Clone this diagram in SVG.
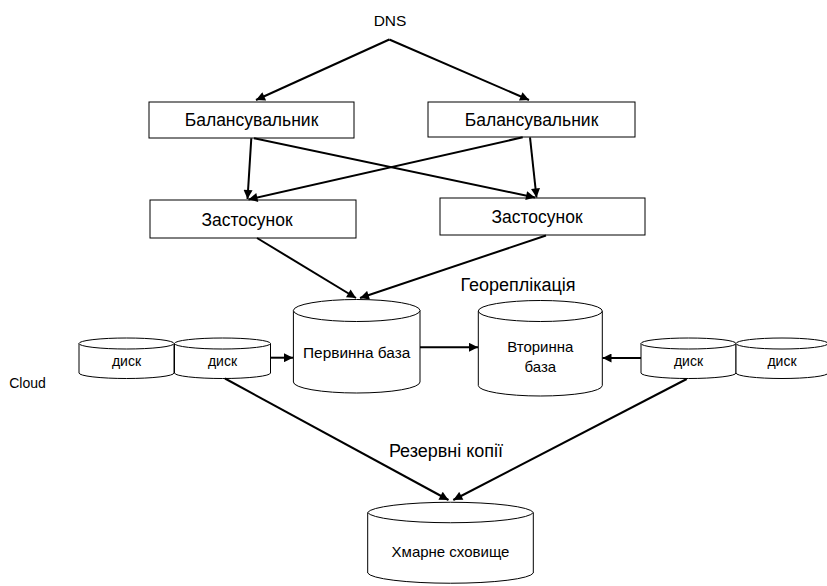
<svg xmlns="http://www.w3.org/2000/svg" width="827" height="586" viewBox="0 0 827 586">
<defs>
<marker id="ah" viewBox="0 0 10 10" refX="10" refY="5" markerWidth="10" markerHeight="9" markerUnits="userSpaceOnUse" orient="auto">
<path d="M0,0 L10,5 L0,10 Z" fill="#000"/>
</marker>
<style>
.t{font-family:"Liberation Sans",Arial,sans-serif;fill:#000;text-anchor:middle}
.box{fill:#fff;stroke:#000;stroke-width:1}
.cyl{fill:#fff;stroke:#000;stroke-width:1}
.c{stroke:#000;stroke-width:2;fill:none;marker-end:url(#ah)}
</style>
</defs>
<rect width="827" height="586" fill="#fff"/>
<g id="dns"><text class="t" x="390" y="26" font-size="15.5">DNS</text></g>
<g id="bal1"><rect class="box" x="149" y="102" width="205" height="36"/><text class="t" x="251.5" y="126" font-size="17.5">Балансувальник</text></g>
<g id="bal2"><rect class="box" x="428" y="102" width="207" height="35"/><text class="t" x="531.5" y="125.5" font-size="17.5">Балансувальник</text></g>
<g id="app1"><rect class="box" x="150" y="200" width="206" height="38"/><text class="t" x="247" y="226" font-size="17.5">Застосунок</text></g>
<g id="app2"><rect class="box" x="440" y="198" width="205" height="37"/><text class="t" x="537" y="222.5" font-size="17.5">Застосунок</text></g>
<g id="primary">
<path class="cyl" d="M293.4,310.5 L293.4,382 A63.3,11 0 0 0 420,382 L420,310.5 A63.3,11 0 0 0 293.4,310.5 Z"/>
<path class="cyl" fill="none" d="M293.4,310.5 A63.3,11 0 0 0 420,310.5"/>
<text class="t" x="356.7" y="358" font-size="15.4">Первинна база</text>
</g>
<g id="secondary">
<path class="cyl" d="M478.3,311 L478.3,385.5 A62,10.5 0 0 0 602.3,385.5 L602.3,311 A62,10.5 0 0 0 478.3,311 Z"/>
<path class="cyl" fill="none" d="M478.3,311 A62,10.5 0 0 0 602.3,311"/>
<text class="t" x="540.3" y="351.7" font-size="15">Вторинна</text>
<text class="t" x="540.3" y="371.7" font-size="15">база</text>
</g>
<g id="disk1">
<path class="cyl" d="M79,343.5 L79,373 A47.5,5.5 0 0 0 174,373 L174,343.5 A47.5,5.5 0 0 0 79,343.5 Z"/>
<path class="cyl" fill="none" d="M79,343.5 A47.5,5.5 0 0 0 174,343.5"/>
<text class="t" x="126.5" y="366" font-size="14">диск</text>
</g>
<g id="disk2">
<path class="cyl" d="M174.5,343.5 L174.5,373 A48,5.5 0 0 0 270.5,373 L270.5,343.5 A48,5.5 0 0 0 174.5,343.5 Z"/>
<path class="cyl" fill="none" d="M174.5,343.5 A48,5.5 0 0 0 270.5,343.5"/>
<text class="t" x="222.5" y="366" font-size="14">диск</text>
</g>
<g id="disk3">
<path class="cyl" d="M641,343.5 L641,373 A47.5,5.5 0 0 0 736,373 L736,343.5 A47.5,5.5 0 0 0 641,343.5 Z"/>
<path class="cyl" fill="none" d="M641,343.5 A47.5,5.5 0 0 0 736,343.5"/>
<text class="t" x="688.5" y="366" font-size="14">диск</text>
</g>
<g id="disk4">
<path class="cyl" d="M736,343.5 L736,373 A46,5.5 0 0 0 828,373 L828,343.5 A46,5.5 0 0 0 736,343.5 Z"/>
<path class="cyl" fill="none" d="M736,343.5 A46,5.5 0 0 0 828,343.5"/>
<text class="t" x="782" y="366" font-size="14">диск</text>
</g>
<g id="cloudstore">
<path class="cyl" d="M367.7,512.5 L367.7,573 A83,11 0 0 0 533.3,573 L533.3,512.5 A83,11 0 0 0 367.7,512.5 Z"/>
<path class="cyl" fill="none" d="M367.7,512.5 A83,11 0 0 0 533.3,512.5"/>
<text class="t" x="450.5" y="556.7" font-size="15">Хмарне сховище</text>
</g>
<g id="labels">
<text class="t" x="518" y="291" font-size="18">Геореплікація</text>
<text class="t" x="446" y="457" font-size="18">Резервні копії</text>
<text class="t" x="27.5" y="388" font-size="14">Cloud</text>
</g>
<g id="connectors">
<line class="c" x1="389.3" y1="39.5" x2="256" y2="100"/>
<line class="c" x1="389.3" y1="39.5" x2="529" y2="100"/>
<line class="c" x1="251.3" y1="138.3" x2="247.5" y2="199"/>
<line class="c" x1="254" y1="138.3" x2="535" y2="197.5"/>
<line class="c" x1="530" y1="137.3" x2="536.5" y2="197.5"/>
<line class="c" x1="522.7" y1="137.3" x2="248.5" y2="199.5"/>
<line class="c" x1="257" y1="238" x2="356" y2="298"/>
<line class="c" x1="546" y1="235.5" x2="360" y2="298"/>
<line class="c" x1="270.7" y1="357.7" x2="293" y2="357.7"/>
<line class="c" x1="420" y1="347.3" x2="478" y2="347.3"/>
<line class="c" x1="641" y1="358" x2="602.5" y2="358"/>
<line class="c" x1="225" y1="378.5" x2="448.5" y2="500"/>
<line class="c" x1="686.7" y1="379" x2="453.3" y2="500"/>
</g>
</svg>
